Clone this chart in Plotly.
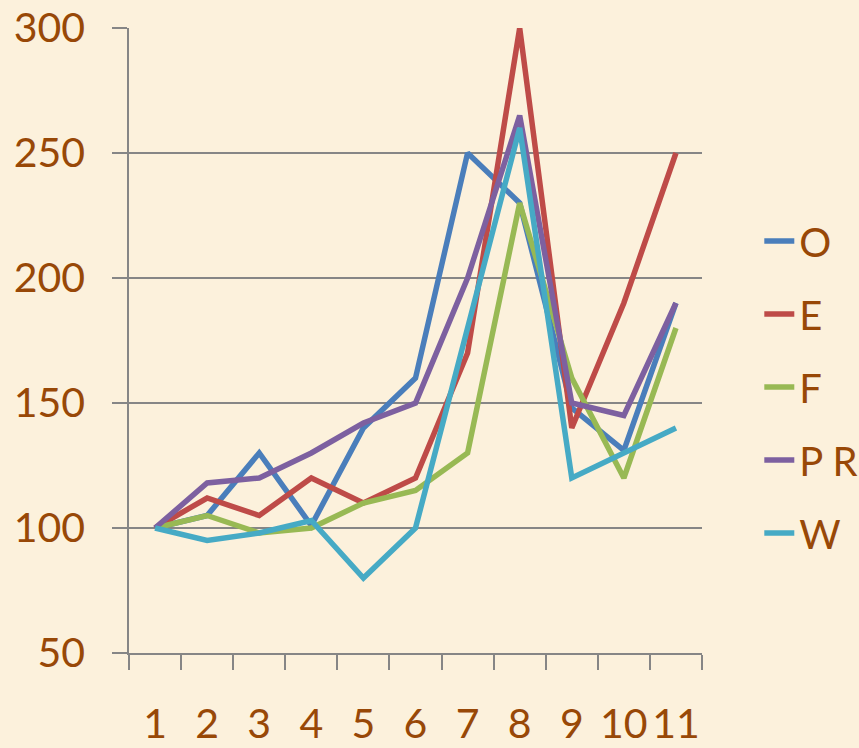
import plotly.graph_objects as go

categories = ["1", "2", "3", "4", "5", "6", "7", "8", "9", "10", "11"]
series_names = ["O", "E", "F", "P R", "W"]
o_values = [100, 105, 130, 101, 140, 160, 250, 230, 148, 131, 190]
e_values = [100, 112, 105, 120, 110, 120, 170, 300, 140, 190, 250]
f_values = [100, 105, 98, 100, 110, 115, 130, 230, 160, 120, 180]
pr_values = [100, 118, 120, 130, 142, 150, 200, 265, 150, 145, 190]
w_values = [100, 95, 98, 103, 80, 100, 180, 260, 120, 130, 140]
y_ticks = [50, 100, 150, 200, 250, 300]

colors = ["#4A7EBB", "#BE4B48", "#98B954", "#7D60A0", "#46AAC5"]
text_color = "#984807"
grid_color = "#868686"
bg = "#FCF1DC"
font_family = "Lato, 'Open Sans', sans-serif"

fig = go.Figure()
for name, vals, col in zip(series_names, [o_values, e_values, f_values, pr_values, w_values], colors):
    fig.add_trace(go.Scatter(
        x=categories, y=vals, name=name, mode="lines",
        line=dict(color=col, width=5.5), legendgroup=name, cliponaxis=False,
    ))

fig.update_layout(
    width=859, height=748,
    paper_bgcolor=bg, plot_bgcolor=bg,
    margin=dict(l=129, r=157, t=28, b=95, autoexpand=False),
    font=dict(family=font_family, size=42, color=text_color),
    showlegend=True,
    legend=dict(
        x=1.1, xanchor="left", y=0.4256, yanchor="middle",
        bgcolor="rgba(0,0,0,0)", tracegroupgap=18,
        font=dict(size=40, color=text_color),
        itemwidth=30,
    ),
    xaxis=dict(
        type="category", range=[-0.5, len(categories) - 0.5],
        showgrid=False, showline=True, linecolor=grid_color, linewidth=1.5,
        ticks="outside", ticklen=15, tickcolor=grid_color, tickwidth=1.5,
        tickson="boundaries", ticklabelstandoff=34, tickangle=0, automargin=False,
        tickfont=dict(size=41, color=text_color),
    ),
    yaxis=dict(
        range=[50, 300], tickvals=y_ticks, showgrid=True, gridcolor=grid_color, gridwidth=1.5,
        showline=True, linecolor=grid_color, linewidth=1.5, zeroline=False,
        ticks="outside", ticklen=15, tickcolor=grid_color, tickwidth=1.5,
        ticklabelstandoff=19, automargin=False,
        tickfont=dict(size=41, color=text_color),
    ),
)

fig.write_html(
    "out.html",
    config={"displayModeBar": False},
    post_script="document.body.style.margin='0';document.body.style.background='" + bg + "';",
)
